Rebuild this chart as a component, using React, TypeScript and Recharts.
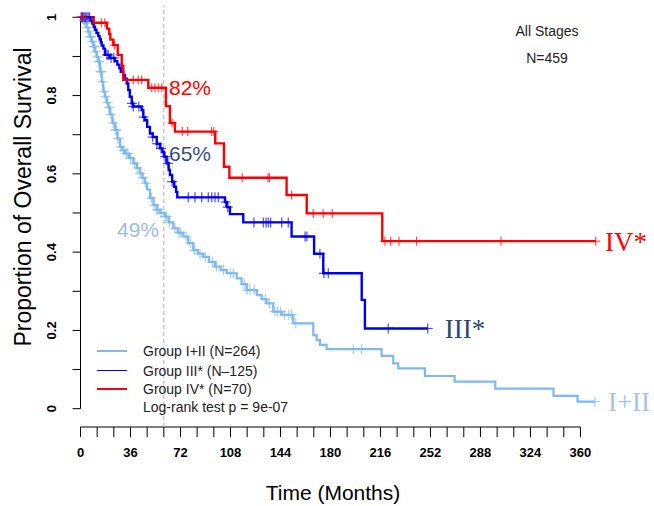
import React from "react";
import { ComposedChart, Line, Scatter, XAxis, YAxis, ReferenceLine } from "recharts";

const SANS = '"Liberation Sans", Arial, sans-serif';
const SERIF = '"Liberation Serif", "Times New Roman", serif';

// Kaplan-Meier steps: [months, survival]
const stageI_II: [number, number][] = [
  [0, 1], [2, 0.992], [3.2, 0.985], [4.4, 0.974], [5.6, 0.963], [6.8, 0.95], [8.1, 0.938],
  [9.2, 0.925], [10.4, 0.912], [11.7, 0.899], [12.8, 0.887], [14, 0.861], [15.3, 0.835],
  [16.4, 0.81], [17.6, 0.797], [18.9, 0.782], [20, 0.77], [21.2, 0.752], [23, 0.73],
  [24.8, 0.712], [26.6, 0.69], [28.4, 0.669], [30.2, 0.66], [32, 0.652], [35, 0.64],
  [38, 0.627], [40.5, 0.615], [42.8, 0.601], [44.5, 0.59], [46.4, 0.576], [48, 0.56],
  [50, 0.538], [52.5, 0.52], [54.9, 0.508], [57.5, 0.5], [60.8, 0.491], [63.5, 0.476],
  [66.8, 0.461], [70, 0.45], [74, 0.44], [77.5, 0.423], [81.2, 0.405], [84.5, 0.396],
  [88.4, 0.388], [92.5, 0.375], [96.8, 0.363], [101, 0.354], [105.3, 0.346], [112.5, 0.333],
  [116, 0.318], [119.7, 0.303], [126.9, 0.29], [130.5, 0.28], [134, 0.269], [138.8, 0.248],
  [145, 0.24], [153.2, 0.218], [167.6, 0.188], [170, 0.175], [172.5, 0.163], [177.2, 0.152],
  [216.8, 0.135], [225.2, 0.116], [228.8, 0.103], [248, 0.0835], [269.4, 0.069],
  [298.7, 0.051], [340.6, 0.0325], [357.9, 0.018], [370.4, 0.018],
];
const stageIII: [number, number][] = [
  [0, 1], [7.5, 0.992], [8.5, 0.984], [9.5, 0.976], [10.4, 0.968], [11.5, 0.96], [12.8, 0.952],
  [13.8, 0.944], [14.6, 0.936], [15.3, 0.928], [16.5, 0.92], [17.6, 0.904], [21, 0.896],
  [24.8, 0.888], [26.5, 0.879], [28, 0.87], [29, 0.861], [30.8, 0.852], [32, 0.843],
  [33.3, 0.831], [34.4, 0.814], [35.5, 0.797], [36.9, 0.78], [38, 0.772], [44, 0.763],
  [45.2, 0.745], [46.5, 0.737], [48, 0.72], [50, 0.703], [52, 0.694], [54.9, 0.677],
  [57.2, 0.665], [59, 0.656], [60.1, 0.644], [62, 0.627], [63.5, 0.61], [64.4, 0.597],
  [66, 0.58], [67.5, 0.567], [68.8, 0.554], [69.7, 0.54], [104, 0.528], [105.5, 0.515],
  [107.6, 0.497], [117.2, 0.476], [152, 0.44], [168.2, 0.396], [174.8, 0.346],
  [202.5, 0.278], [204.8, 0.205], [250, 0.205],
];
const stageIV: [number, number][] = [
  [0, 1], [9.5, 0.986], [19, 0.971], [20.7, 0.957], [21.5, 0.943], [23.6, 0.929],
  [26.8, 0.904], [29.7, 0.875], [30.8, 0.84], [48.8, 0.82], [61.5, 0.773], [64.4, 0.73],
  [68, 0.708], [97, 0.678], [103.3, 0.618], [107.2, 0.59], [148.4, 0.546], [162.9, 0.499],
  [217.3, 0.428], [371, 0.428],
];

// censoring times (months)
const censI_II = [
  0.5, 1, 1.5, 2.5, 3, 4, 5, 6, 7, 7.5, 8.5, 9.5, 10, 11, 12, 13, 13.5, 14.5, 15, 16, 17, 18,
  19.5, 20.5, 22, 23.5, 25, 26, 27, 29, 31, 33, 34, 36, 39, 41, 43, 45, 47, 51, 53, 55, 56, 58,
  61, 62, 64, 68, 71, 72, 76, 79, 82, 86, 90, 95, 98, 103, 108, 110, 118, 120, 122, 125, 133,
  136, 140, 142, 144, 147, 150, 152, 155, 196.4, 202.4, 370.4,
];
const censIII = [
  0.5, 1.5, 2.5, 3.5, 4.5, 5.5, 6.5, 19, 20, 22, 24, 37, 38, 42, 45.5, 52, 55, 58, 61, 63, 66,
  77.6, 82.4, 87.3, 92, 94.5, 96.8, 99.2, 104.5, 106, 124.9, 131.6, 133.6, 135.2, 136.9, 144.9,
  149.6, 161.7, 163, 172.4, 175.3, 178.4, 221.6, 250,
];
const censIV = [
  1, 2, 15, 17.5, 24.5, 38, 41.6, 44, 51.3, 53.6, 56, 58.5, 66, 73.3, 77.2, 94.4, 96, 116.5,
  135, 136, 152, 167.6, 174.8, 181.3, 219.2, 223.3, 229.3, 242, 302.8, 371,
];

const xTicks = [0, 12, 24, 36, 48, 60, 72, 84, 96, 108, 120, 132, 144, 156, 168, 180, 192, 204,
  216, 228, 240, 252, 264, 276, 288, 300, 312, 324, 336, 348, 360];
const xLabels = [0, 36, 72, 108, 144, 180, 216, 252, 288, 324, 360];
const yTicks = [0, 0.1, 0.2, 0.3, 0.4, 0.5, 0.6, 0.7, 0.8, 0.9, 1];
const yLabels = ["0", "0.2", "0.4", "0.6", "0.8", "1"];

const Y_MIN = -0.0468; // axis sits a little below zero, as in base R

const LIGHT = "#7db9f2";
const BLUE = "#0000f0";
const RED = "#ff0000";

function survAt(steps: [number, number][], t: number) {
  let s = steps[0][1];
  for (const [st, sv] of steps) if (st <= t) s = sv;
  return s;
}
const rows = (steps: [number, number][]) => steps.map(([t, s]) => ({ t, s }));
const censRows = (steps: [number, number][], times: number[]) =>
  times.map((t) => ({ t, s: survAt(steps, t) }));

const plus = (color: string, size: number) => (p: any) => (
  <g stroke={color} strokeWidth={1.2} opacity={0.7}>
    <line x1={p.cx - size} x2={p.cx + size} y1={p.cy} y2={p.cy} />
    <line x1={p.cx} x2={p.cx} y1={p.cy - size} y2={p.cy + size} />
  </g>
);

const XTick = (p: any) =>
  xLabels.includes(p.payload.value) ? (
    <text x={p.x} y={p.y + 18} textAnchor="middle" fontFamily={SANS} fontSize={13} fontWeight="bold" fill="#000">
      {p.payload.value}
    </text>
  ) : (
    <g />
  );

const YTick = (p: any) => {
  const v = Math.round(p.payload.value * 10) / 10;
  const lbl = String(v);
  if (!yLabels.includes(lbl)) return <g />;
  const x = p.x - 19;
  return (
    <text x={x} y={p.y} transform={`rotate(-90 ${x} ${p.y})`} textAnchor="middle" dominantBaseline="central"
      fontFamily={SANS} fontSize={13} fontWeight="bold" fill="#000">
      {lbl}
    </text>
  );
};

const abs = (x: number, y: number, extra: React.CSSProperties): React.CSSProperties => ({
  position: "absolute", left: x, top: y, transform: "translate(-50%, -50%)", whiteSpace: "nowrap",
  lineHeight: 1, ...extra,
});

const legendRows = [
  { label: "Group I+II (N=264)", color: LIGHT, width: 2 },
  { label: "Group III* (N\u2013125)", color: BLUE, width: 1 },
  { label: "Group IV* (N=70)", color: RED, width: 2 },
];
const legendY = [350.7, 370.7, 389.3];

export default function App() {
  return (
    <div style={{ position: "absolute", left: 0, top: 0, width: 654, height: 506, background: "#fff", fontFamily: SANS }}>
      <ComposedChart width={654} height={506} margin={{ top: 17.3, right: 18, bottom: 0, left: 0 }}>
        <XAxis type="number" dataKey="t" domain={[0, 400]} ticks={xTicks} interval={0} axisLine={false}
          tickSize={10} tickLine={{ stroke: "#000" }} tick={<XTick />} height={79} />
        <YAxis type="number" dataKey="s" domain={[Y_MIN, 1]} ticks={yTicks} interval={0} axisLine={false}
          tickSize={8} tickLine={{ stroke: "#000" }} tick={<YTick />} width={80.5} />
        <ReferenceLine segment={[{ x: 0, y: Y_MIN }, { x: 360, y: Y_MIN }]} stroke="#000" ifOverflow="visible" />
        <ReferenceLine segment={[{ x: 0, y: 0 }, { x: 0, y: 1 }]} stroke="#000" ifOverflow="visible" />
        <ReferenceLine segment={[{ x: 60, y: Y_MIN }, { x: 60, y: 1.03 }]} stroke="#b0b0b0"
          strokeDasharray="4 3" ifOverflow="visible" />
        <Line data={rows(stageI_II)} dataKey="s" type="stepAfter" stroke={LIGHT} strokeWidth={2.2}
          dot={false} activeDot={false} isAnimationActive={false} />
        <Line data={rows(stageIII)} dataKey="s" type="stepAfter" stroke={BLUE} strokeWidth={2.4}
          dot={false} activeDot={false} isAnimationActive={false} />
        <Line data={rows(stageIV)} dataKey="s" type="stepAfter" stroke={RED} strokeWidth={2.4}
          dot={false} activeDot={false} isAnimationActive={false} />
        <Scatter data={censRows(stageI_II, censI_II)} dataKey="s" shape={plus(LIGHT, 5)} isAnimationActive={false} />
        <Scatter data={censRows(stageIII, censIII)} dataKey="s" shape={plus(BLUE, 5)} isAnimationActive={false} />
        <Scatter data={censRows(stageIV, censIV)} dataKey="s" shape={plus(RED, 4.5)} isAnimationActive={false} />
      </ComposedChart>

      <div style={abs(547, 31, { fontSize: 14, color: "#222" })}>All Stages</div>
      <div style={abs(547, 58, { fontSize: 14, color: "#222" })}>N=459</div>

      <div style={abs(190, 87, { fontSize: 21, color: RED })}>82%</div>
      <div style={abs(190, 153, { fontSize: 21, color: "#36507a" })}>65%</div>
      <div style={abs(138, 229, { fontSize: 21, color: "#9ebde6" })}>49%</div>

      <div style={abs(626, 242, { fontSize: 27, color: RED, fontFamily: SERIF })}>IV*</div>
      <div style={abs(465, 329, { fontSize: 27, color: "#2c4a78", fontFamily: SERIF })}>III*</div>
      <div style={abs(629, 402, { fontSize: 27, color: "#a6c4ea", fontFamily: SERIF })}>I+II</div>

      {legendRows.map((r, i) => (
        <React.Fragment key={r.label}>
          <div style={{ position: "absolute", left: 97, width: 30, top: legendY[i] - r.width / 2,
            height: r.width, background: r.color }} />
          <div style={{ position: "absolute", left: 143, top: legendY[i], transform: "translateY(-50%)",
            fontSize: 14, lineHeight: 1, color: "#222", whiteSpace: "nowrap" }}>{r.label}</div>
        </React.Fragment>
      ))}
      <div style={{ position: "absolute", left: 143, top: 407.3, transform: "translateY(-50%)", fontSize: 14,
        lineHeight: 1, color: "#222", whiteSpace: "nowrap" }}>Log-rank test p = 9e-07</div>

      <div style={abs(333, 492, { fontSize: 21, color: "#000" })}>Time (Months)</div>
      <div style={abs(23, 197, { fontSize: 23, color: "#000", transform: "translate(-50%, -50%) rotate(-90deg)" })}>
        Proportion of Overall Survival
      </div>
    </div>
  );
}
